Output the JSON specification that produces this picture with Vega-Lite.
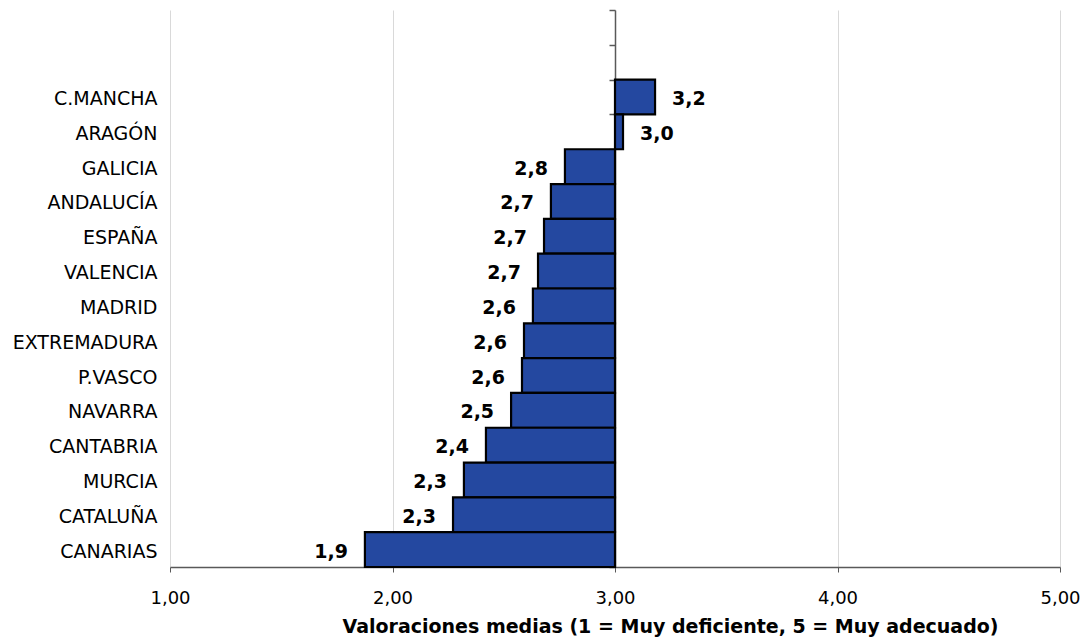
{
  "$schema": "https://vega.github.io/schema/vega-lite/v6.json",
  "width": 890,
  "height": 557,
  "autosize": {"type": "none"},
  "padding": {"left": 170, "top": 10, "right": 29, "bottom": 72},
  "background": "white",
  "config": {
    "font": "DejaVu Sans",
    "view": {"stroke": null},
    "locale": {
      "number": {"decimal": ",", "thousands": ".", "grouping": [3], "currency": ["", " €"]}
    }
  },
  "data": {
    "values": [
      {"region": "C.MANCHA", "valor": 3.18},
      {"region": "ARAGÓN", "valor": 3.036},
      {"region": "GALICIA", "valor": 2.775},
      {"region": "ANDALUCÍA", "valor": 2.712},
      {"region": "ESPAÑA", "valor": 2.681},
      {"region": "VALENCIA", "valor": 2.654},
      {"region": "MADRID", "valor": 2.631},
      {"region": "EXTREMADURA", "valor": 2.591},
      {"region": "P.VASCO", "valor": 2.582},
      {"region": "NAVARRA", "valor": 2.533},
      {"region": "CANTABRIA", "valor": 2.42},
      {"region": "MURCIA", "valor": 2.321},
      {"region": "CATALUÑA", "valor": 2.272},
      {"region": "CANARIAS", "valor": 1.876}
    ]
  },
  "resolve": {"axis": {"y": "independent"}},
  "layer": [
    {
      "mark": {"type": "bar", "color": "#2448A0", "stroke": "black", "strokeWidth": 2.2},
      "encoding": {
        "y": {
          "field": "region",
          "type": "nominal",
          "sort": null,
          "scale": {
            "domain": ["_e1", "_e2", "C.MANCHA", "ARAGÓN", "GALICIA", "ANDALUCÍA", "ESPAÑA", "VALENCIA", "MADRID", "EXTREMADURA", "P.VASCO", "NAVARRA", "CANTABRIA", "MURCIA", "CATALUÑA", "CANARIAS"],
            "paddingInner": 0,
            "paddingOuter": 0
          },
          "axis": {
            "orient": "left",
            "title": null,
            "domain": false,
            "ticks": false,
            "grid": false,
            "labelFontSize": 19,
            "labelColor": "black",
            "labelPadding": 13,
            "labelOffset": 2,
            "labelExpr": "indexof(datum.label, '_e') == 0 ? '' : datum.label"
          }
        },
        "x": {
          "field": "valor",
          "type": "quantitative",
          "scale": {"domain": [1, 5], "nice": false, "zero": false},
          "axis": {
            "values": [1, 2, 3, 4, 5],
            "format": ".2f",
            "labelFlush": false,
            "labelFontSize": 18,
            "labelColor": "black",
            "labelPadding": 17,
            "tickSize": 5,
            "tickColor": "#595959",
            "domainColor": "#595959",
            "domainWidth": 1.5,
            "grid": true,
            "gridColor": "#d9d9d9",
            "gridWidth": 1,
            "title": "Valoraciones medias (1 = Muy deficiente, 5 = Muy adecuado)",
            "titleFontSize": 19,
            "titleFontWeight": "bold",
            "titleColor": "black",
            "titleX": 500,
            "titleY": 65,
            "titleAlign": "center",
            "titleBaseline": "alphabetic"
          }
        },
        "x2": {"datum": 3}
      }
    },
    {
      "transform": [{"filter": "datum.valor >= 3"}],
      "mark": {"type": "text", "align": "left", "baseline": "middle", "dx": 17, "dy": 2, "fontSize": 19, "fontWeight": "bold", "color": "black"},
      "encoding": {
        "y": {"field": "region", "type": "nominal", "sort": null, "axis": null},
        "x": {"field": "valor", "type": "quantitative"},
        "text": {"field": "valor", "type": "quantitative", "format": ".1f"}
      }
    },
    {
      "transform": [
        {"filter": "datum.valor < 3"}
      ],
      "mark": {"type": "text", "align": "right", "baseline": "middle", "dx": -17, "dy": 2, "fontSize": 19, "fontWeight": "bold", "color": "black"},
      "encoding": {
        "y": {
          "field": "region",
          "type": "nominal",
          "sort": null,
          "axis": {
            "orient": "left",
            "offset": -445,
            "title": null,
            "labels": false,
            "grid": false,
            "domain": true,
            "domainColor": "#595959",
            "domainWidth": 1.5,
            "ticks": true,
            "tickBand": "extent",
            "tickSize": 6,
            "tickColor": "#595959",
            "tickWidth": 1.5
          }
        },
        "x": {"field": "valor", "type": "quantitative"},
        "text": {"field": "valor", "type": "quantitative", "format": ".1f"}
      }
    }
  ]
}
